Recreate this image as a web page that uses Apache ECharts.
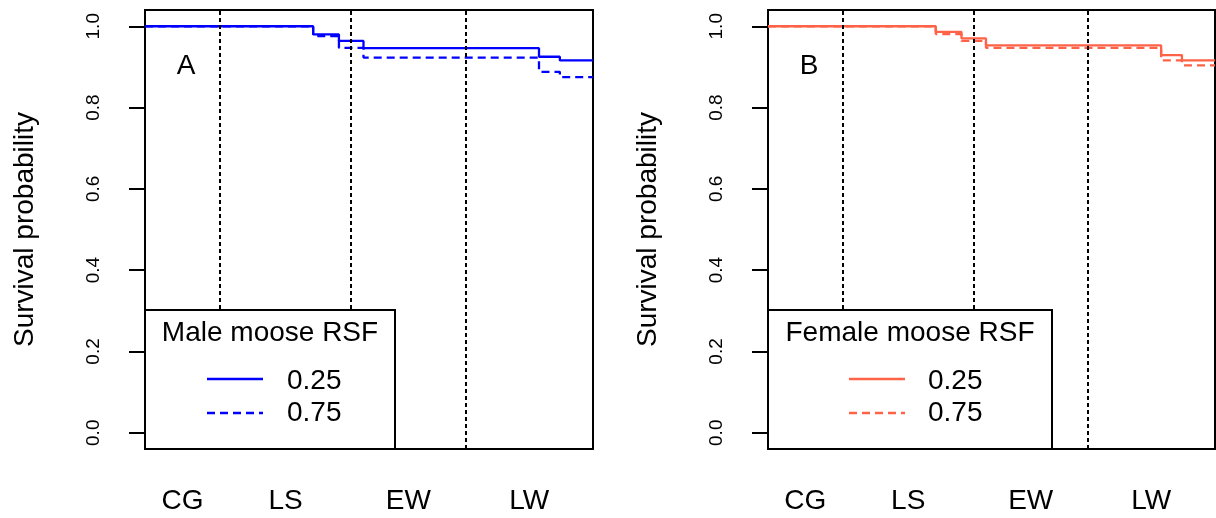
<!DOCTYPE html>
<html>
<head>
<meta charset="utf-8">
<script src="https://cdn.jsdelivr.net/npm/echarts@6/dist/echarts.min.js"></script>
<style>
html,body{margin:0;padding:0;background:#fff;}
#chart{width:1216px;height:518px;}
</style>
</head>
<body>
<div id="chart"></div>
<script>
// ---- data ----
var seasonLabels = ['CG', 'LS', 'EW', 'LW'];
var seasonBreaks = [61, 168, 261];      // day of season boundaries
var dayMax = 365;
var stepDays = [0, 137, 158, 178, 321, 338, 365];
var male025 = [1.000, 0.980, 0.964, 0.946, 0.925, 0.916, 0.916];
var male075 = [1.000, 0.976, 0.947, 0.923, 0.888, 0.875, 0.875];
var female025 = [1.000, 0.986, 0.970, 0.953, 0.929, 0.916, 0.916];
var female075 = [1.000, 0.981, 0.964, 0.947, 0.916, 0.904, 0.904];
var yTicks = [0, 0.2, 0.4, 0.6, 0.8, 1.0];
var rsfLevels = ['0.25', '0.75'];
var panelTitles = ['Male moose RSF', 'Female moose RSF'];
var panelLetters = ['A', 'B'];

// ---- build ----
var FONT = '"Liberation Sans", Arial, Helvetica, sans-serif';
var BLUE = '#0000FF', RED = '#FF6347';
var edges = [0].concat(seasonBreaks).concat([dayMax]);
var seasonMid = [];
for (var i = 0; i < seasonLabels.length; i++) seasonMid.push((edges[i] + edges[i + 1]) / 2);

function pairs(vals) { return stepDays.map(function (d, i) { return [d, vals[i]]; }); }

var grids = [
  {left: 145, top: 10, width: 448, height: 439},
  {left: 768, top: 10, width: 447, height: 439}
];

function xAxisFor(gi) {
  return {
    type: 'value', gridIndex: gi, min: 0, max: dayMax,
    axisLine: {show: false}, axisTick: {show: false}, splitLine: {show: false},
    axisLabel: {
      customValues: seasonMid, margin: 38, fontSize: 28, color: '#000', fontFamily: FONT,
      formatter: function (v) {
        for (var k = 0; k < seasonMid.length; k++) if (Math.abs(seasonMid[k] - v) < 1e-6) return seasonLabels[k];
        return '';
      }
    }
  };
}
function yAxisFor(gi) {
  return {
    type: 'value', gridIndex: gi, min: -0.04, max: 1.04,
    name: 'Survival probability', nameLocation: 'middle', nameGap: 106,
    nameTextStyle: {fontSize: 28, color: '#000', fontFamily: FONT},
    axisLine: {show: false},
    axisTick: {show: true, length: 16, customValues: yTicks, lineStyle: {color: '#000', width: 2}},
    splitLine: {show: false},
    axisLabel: {customValues: yTicks, rotate: 90, margin: 42, fontSize: 19, color: '#000', fontFamily: FONT,
      formatter: function (v) { return v.toFixed(1); }}
  };
}

function seriesFor(gi, vals, color, dashed, withLines) {
  var s = {
    type: 'line', xAxisIndex: gi, yAxisIndex: gi, step: 'end', showSymbol: false,
    name: rsfLevels[dashed ? 1 : 0], silent: true, animation: false,
    data: pairs(vals), z: 3,
    lineStyle: {color: color, width: 2.3, type: dashed ? [8, 5] : 'solid'}
  };
  if (withLines) {
    s.markLine = {
      silent: true, symbol: 'none', label: {show: false}, animation: false,
      lineStyle: {color: '#000', width: 2, type: [4, 3]},
      data: seasonBreaks.map(function (b) { return {xAxis: b}; })
    };
  }
  return s;
}

function legendGraphic(gi, color) {
  var g = grids[gi];
  var x0 = g.left, w = gi === 0 ? 250 : 284, top = 310, h = g.top + g.height - top;
  var lineX = x0 + (gi === 0 ? 62 : 81), textX = x0 + (gi === 0 ? 142 : 160);
  return [
    {type: 'rect', z: 100, shape: {x: x0, y: top, width: w, height: h},
      style: {fill: '#fff', stroke: '#000', lineWidth: 2}},
    {type: 'text', z: 101, x: x0 + w / 2, y: 333,
      style: {text: panelTitles[gi], fontSize: 28, fontFamily: FONT, fill: '#000', align: 'center', verticalAlign: 'middle'}},
    {type: 'line', z: 101, shape: {x1: lineX, y1: 379, x2: lineX + 56, y2: 379},
      style: {stroke: color, lineWidth: 2.3}},
    {type: 'line', z: 101, shape: {x1: lineX, y1: 413, x2: lineX + 56, y2: 413},
      style: {stroke: color, lineWidth: 2.3, lineDash: [8, 5]}},
    {type: 'text', z: 101, x: textX, y: 381,
      style: {text: rsfLevels[0], fontSize: 28, fontFamily: FONT, fill: '#000', align: 'left', verticalAlign: 'middle'}},
    {type: 'text', z: 101, x: textX, y: 413,
      style: {text: rsfLevels[1], fontSize: 28, fontFamily: FONT, fill: '#000', align: 'left', verticalAlign: 'middle'}},
    {type: 'text', z: 101, x: g.left + 41, y: 66,
      style: {text: panelLetters[gi], fontSize: 28, fontFamily: FONT, fill: '#000', align: 'center', verticalAlign: 'middle'}}
  ];
}

var option = {
  backgroundColor: '#fff',
  animation: false,
  grid: grids.map(function (g) {
    return {left: g.left, top: g.top, width: g.width, height: g.height, show: true,
      borderColor: '#000', borderWidth: 2, backgroundColor: 'transparent', containLabel: false};
  }),
  xAxis: [xAxisFor(0), xAxisFor(1)],
  yAxis: [yAxisFor(0), yAxisFor(1)],
  series: [
    seriesFor(0, male025, BLUE, false, true),
    seriesFor(0, male075, BLUE, true, false),
    seriesFor(1, female025, RED, false, true),
    seriesFor(1, female075, RED, true, false)
  ],
  graphic: legendGraphic(0, BLUE).concat(legendGraphic(1, RED))
};

var chart = echarts.init(document.getElementById('chart'), null, {renderer: 'canvas'});
chart.setOption(option);
</script>
</body>
</html>
